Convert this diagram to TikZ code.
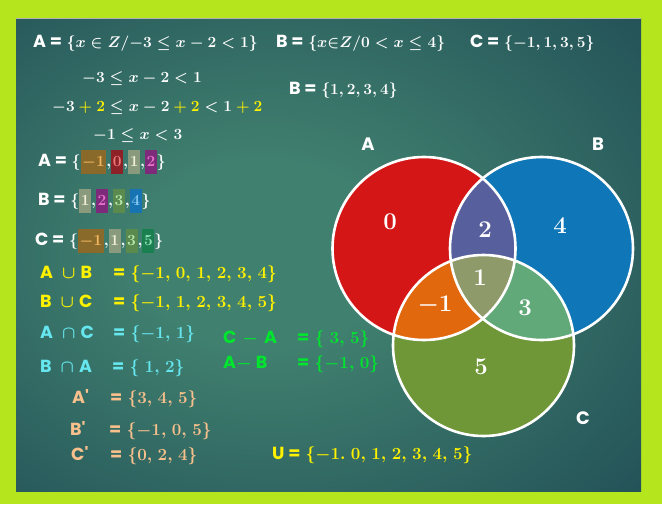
\RequirePackage{fix-cm}
\documentclass[tikz,border=0pt]{standalone}
\usepackage{fontspec}
\setsansfont{Poppins}[Ligatures=TeXOff]
\usepackage{xcolor}
\definecolor{limeEdge}{HTML}{B5E61D}
\definecolor{panelDark}{HTML}{12364A}
\definecolor{panelGlow}{HTML}{40806F}
\definecolor{setYellow}{HTML}{FFF200}
\definecolor{setCyan}{HTML}{66E6EE}
\definecolor{setGreen}{HTML}{00E62E}
\definecolor{setPeach}{HTML}{F7C08C}
\definecolor{vennA}{HTML}{D51616}
\definecolor{vennB}{HTML}{0F77B7}
\definecolor{vennC}{HTML}{6F9637}
\definecolor{vennAB}{HTML}{575F9D}
\definecolor{vennAC}{HTML}{E2680E}
\definecolor{vennBC}{HTML}{62A97A}
\definecolor{vennABC}{HTML}{8F9A6A}
\definecolor{boxBrown}{HTML}{8A6A2A}
\definecolor{txtBrown}{HTML}{F5B860}
\definecolor{boxRed}{HTML}{8C2228}
\definecolor{txtRed}{HTML}{F07878}
\definecolor{boxGrey}{HTML}{8A9A7C}
\definecolor{txtGrey}{HTML}{F0F0D8}
\definecolor{boxPurple}{HTML}{7E2A7A}
\definecolor{txtPurple}{HTML}{E870C8}
\definecolor{boxGreen}{HTML}{5A8A4E}
\definecolor{txtGreen}{HTML}{B8E8A8}
\definecolor{boxBlue}{HTML}{1873B3}
\definecolor{txtBlue}{HTML}{80C8F0}
\definecolor{boxTeal}{HTML}{1A8050}
\definecolor{txtTeal}{HTML}{90E0B0}
\usepackage{tikz}
\usetikzlibrary{positioning}
\pgfdeclareradialshading{panelshine}{\pgfpoint{-6bp}{0bp}}{color(0bp)=(panelGlow); color(10bp)=(panelGlow); color(55bp)=(panelDark); color(80bp)=(panelDark)}
\newcommand{\sname}[1]{{\fontsize{17.5}{20}\selectfont\sffamily\bfseries #1}}
\newcommand{\yl}[1]{\textcolor{setYellow}{#1}}
\newcommand{\hlnum}[3]{{\setlength{\fboxsep}{1.6pt}\colorbox{#1}{\rule[-6pt]{0pt}{20pt}\textcolor{#2}{$#3$}}}}
\newcommand{\widecommas}{\thinmuskip=5mu\relax}

\begin{document}
\boldmath
\begin{tikzpicture}[x=1pt, y=-1pt,
    settxt/.style={anchor=base west, inner sep=0pt, text=white,
                   font=\fontsize{15.5}{18}\selectfont\boldmath},
    opstxt/.style={settxt, font=\fontsize{17}{20}\selectfont\boldmath\widecommas},
    vnum/.style={inner sep=0pt, text=white,
                 font=\fontsize{24}{26}\selectfont\boldmath},
    vlet/.style={inner sep=0pt, text=white,
                 font=\fontsize{18}{20}\selectfont\sffamily\bfseries},
    ring/.style={draw=white, line width=2.6pt}]
  % frame and board
  \fill[limeEdge] (0,0) rectangle (662,504);
  \shade[shading=panelshine] (16,18) rectangle (641,491);
  \draw[gray!60, line width=0.8pt] (16,18.4) -- (641,18.4);

  % definitions
  \node[settxt] (defA) at (33,47) {\sname{A =} $\{x \in Z/{-3} \le x-2<1\}$};
  \node[settxt] (defB) at (276,47) {\sname{B =} $\{x{\in}Z/0 < x \le 4\}$};
  \node[settxt] (defC) at (470,47) {\sname{C =} $\{-1,1,3,5\}$};
  \node[settxt] (stepOne) at (82,82) {$-3 \le x-2<1$};
  \node[settxt] (stepTwo) at (52,111)
       {$-3 \mathbin{\yl{+}} \yl{2} \le x-2 \mathbin{\yl{+}} \yl{2} < 1 \mathbin{\yl{+}} \yl{2}$};
  \node[settxt] (stepThree) at (93,139) {$-1 \le x < 3$};
  \node[settxt] (listB) at (289,94) {\sname{B =} $\{1,2,3,4\}$};

  % listed sets with coloured elements
  \node[settxt] (boxA) at (38,166) {\sname{A =} $\{$\hlnum{boxBrown}{txtBrown}{-1}$,$\hlnum{boxRed}{txtRed}{0}$,$\hlnum{boxGrey}{txtGrey}{1}$,$\hlnum{boxPurple}{txtPurple}{2}$\}$};
  \node[settxt] (boxB) at (38,205) {\sname{B =} $\{$\hlnum{boxGrey}{txtGrey}{1}$,$\hlnum{boxPurple}{txtPurple}{2}$,$\hlnum{boxGreen}{txtGreen}{3}$,$\hlnum{boxBlue}{txtBlue}{4}$\}$};
  \node[settxt] (boxC) at (35,245) {\sname{C =} $\{$\hlnum{boxBrown}{txtBrown}{-1}$,$\hlnum{boxGrey}{txtGrey}{1}$,$\hlnum{boxGreen}{txtGreen}{3}$,$\hlnum{boxTeal}{txtTeal}{5}$\}$};

  % operations
  \node[opstxt, text=setYellow] (uAB) at (40,278) {\sname{A\hspace{9pt}$\cup$\hspace{5pt}B}};
  \node[opstxt, text=setYellow] (uABset) at (113,278) {\sname{=} $\{-1,0,1,2,3,4\}$};
  \node[opstxt, text=setYellow] (uBC) at (40,307) {\sname{B\hspace{9pt}$\cup$\hspace{5pt}C}};
  \node[opstxt, text=setYellow] (uBCset) at (113,307) {\sname{=} $\{-1,1,2,3,4,5\}$};
  \node[opstxt, text=setCyan] (iAC) at (40,338) {\sname{A\hspace{9pt}$\cap$\hspace{5pt}C}};
  \node[opstxt, text=setCyan] (iACset) at (113,338) {\sname{=} $\{-1,1\}$};
  \node[opstxt, text=setCyan] (iBA) at (40,372) {\sname{B\hspace{9pt}$\cap$\hspace{5pt}A}};
  \node[opstxt, text=setCyan] (iBAset) at (112,372) {\sname{=} $\{\,1,2\}$};
  \node[opstxt, text=setGreen] (dCA) at (223,343) {\sname{C\hspace{6pt}$-$\hspace{6pt}A}};
  \node[opstxt, text=setGreen] (dCAset) at (297,343) {\sname{=} $\{\,3,5\}$};
  \node[opstxt, text=setGreen] (dAB) at (223,368) {\sname{A$-$\hspace{4pt}B}};
  \node[opstxt, text=setGreen] (dABset) at (297,368) {\sname{=} $\{-1,0\}$};
  \node[opstxt, text=setPeach] (cmpA) at (72,403) {\sname{A'}};
  \node[opstxt, text=setPeach] (cmpAset) at (110,403) {\sname{=} $\{3,4,5\}$};
  \node[opstxt, text=setPeach] (cmpB) at (70,435) {\sname{B'}};
  \node[opstxt, text=setPeach] (cmpBset) at (109,435) {\sname{=} $\{-1,0,5\}$};
  \node[opstxt, text=setPeach] (cmpC) at (71,460) {\sname{C'}};
  \node[opstxt, text=setPeach] (cmpCset) at (110,460) {\sname{=} $\{0,2,4\}$};
  \node[opstxt, text=setYellow] (univ) at (272,459) {\sname{U =} $\{-1.\,0,1,2,3,4,5\}$};

  % venn diagram
  \coordinate (cA) at (424,248.5);
  \coordinate (cB) at (541.5,248.5);
  \coordinate (cC) at (483.5,345.5);
  \fill[vennA] (cA) circle[radius=91.5pt];
  \fill[vennB] (cB) circle[radius=91.5pt];
  \fill[vennC] (cC) circle[radius=90.5pt];
  \begin{scope}
    \clip (cA) circle[radius=91.5pt];
    \fill[vennAB] (cB) circle[radius=91.5pt];
    \fill[vennAC] (cC) circle[radius=90.5pt];
  \end{scope}
  \begin{scope}
    \clip (cB) circle[radius=91.5pt];
    \fill[vennBC] (cC) circle[radius=90.5pt];
    \clip (cC) circle[radius=90.5pt];
    \fill[vennABC] (cA) circle[radius=91.5pt];
  \end{scope}
  \draw[ring] (cA) circle[radius=91.5pt];
  \draw[ring] (cB) circle[radius=91.5pt];
  \draw[ring] (cC) circle[radius=90.5pt];

  \node[vlet] (letA) at (368,144) {A};
  \node[vlet] (letB) at (598,144) {B};
  \node[vlet] (letC) at (583,418) {C};
  \node[vnum] (onlyA) at (390,222) {$0$};
  \node[vnum] (partAB) at (485,230) {$2$};
  \node[vnum] (onlyB) at (560,226) {$4$};
  \node[vnum] (partABC) at (480,278) {$1$};
  \node[vnum] (partAC) at (435,305) {$-1$};
  \node[vnum] (partBC) at (525,308) {$3$};
  \node[vnum] (onlyC) at (481,367) {$5$};
\end{tikzpicture}
\end{document}
